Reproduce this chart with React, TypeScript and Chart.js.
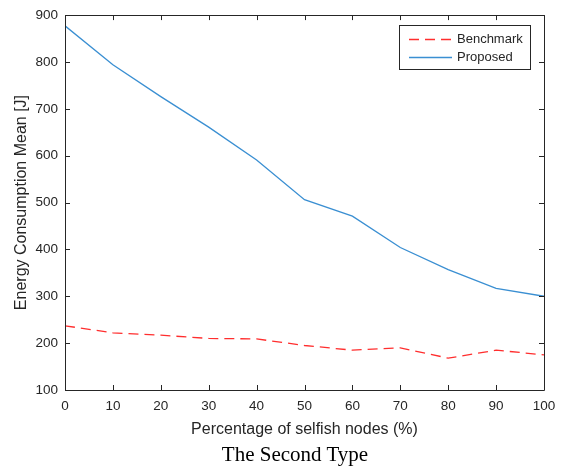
import React, { useEffect, useRef } from "react";
import { Chart, registerables } from "chart.js";

Chart.register(...registerables);

const xValues = [0, 10, 20, 30, 40, 50, 60, 70, 80, 90, 100];
const benchmark = [237, 222, 217, 210, 209, 195, 185, 190, 168, 185, 175];
const proposed = [877, 794, 726, 661, 591, 506, 471, 404, 357, 317, 300];
const yTicks = [100, 200, 300, 400, 500, 600, 700, 800, 900];
const xTicks = [0, 10, 20, 30, 40, 50, 60, 70, 80, 90, 100];
const seriesNames = ["Benchmark", "Proposed"];

const AXIS = "#262626";
const FONT = "'Liberation Sans', Arial, Helvetica, sans-serif";
const RED = "#ff2e2e";
const BLUE = "#3a8fd2";
const COLORS = [RED, BLUE];
const DASHES = [[10, 6], []];

const matlabAxes = {
  id: "matlabAxes",
  afterDatasetsDraw(chart: any) {
    const { ctx, chartArea } = chart;
    const { left, right, top, bottom } = chartArea;
    const xs = chart.scales.x;
    const ys = chart.scales.y;
    const tl = 5;
    ctx.save();
    ctx.strokeStyle = AXIS;
    ctx.lineWidth = 1;
    ctx.setLineDash([]);
    ctx.beginPath();
    ctx.rect(Math.round(left) + 0.5, Math.round(top) + 0.5, Math.round(right - left), Math.round(bottom - top));
    ctx.stroke();
    ctx.beginPath();
    for (const v of xTicks) {
      const px = Math.round(xs.getPixelForValue(v)) + 0.5;
      ctx.moveTo(px, bottom);
      ctx.lineTo(px, bottom - tl);
      ctx.moveTo(px, top);
      ctx.lineTo(px, top + tl);
    }
    for (const v of yTicks) {
      const py = Math.round(ys.getPixelForValue(v)) + 0.5;
      ctx.moveTo(left, py);
      ctx.lineTo(left + tl, py);
      ctx.moveTo(right, py);
      ctx.lineTo(right - tl, py);
    }
    ctx.stroke();

    // legend
    const bx = 399.5, by = 25.5, bw = 131, bh = 44;
    ctx.fillStyle = "#ffffff";
    ctx.fillRect(bx, by, bw, bh);
    ctx.strokeStyle = AXIS;
    ctx.lineWidth = 1;
    ctx.strokeRect(bx, by, bw, bh);
    const rows = [39.5, 57.5];
    seriesNames.forEach((name, i) => {
      const y = rows[i];
      ctx.beginPath();
      ctx.strokeStyle = COLORS[i];
      ctx.lineWidth = 1.3;
      ctx.setLineDash(DASHES[i]);
      ctx.moveTo(409, y);
      ctx.lineTo(452, y);
      ctx.stroke();
      ctx.setLineDash([]);
      ctx.fillStyle = AXIS;
      ctx.font = `13px ${FONT}`;
      ctx.textBaseline = "middle";
      ctx.textAlign = "left";
      ctx.fillText(name, 457, y);
    });
    ctx.restore();
  },
};

export default function App() {
  const ref = useRef<HTMLCanvasElement>(null);
  useEffect(() => {
    if (!ref.current) return;
    const chart = new Chart(ref.current, {
      type: "line",
      data: {
        datasets: [
          {
            label: seriesNames[0],
            data: xValues.map((x, i) => ({ x, y: benchmark[i] })),
            borderColor: RED,
            borderWidth: 1.3,
            borderDash: DASHES[0],
            pointRadius: 0,
            fill: false,
            tension: 0,
          },
          {
            label: seriesNames[1],
            data: xValues.map((x, i) => ({ x, y: proposed[i] })),
            borderColor: BLUE,
            borderWidth: 1.3,
            pointRadius: 0,
            fill: false,
            tension: 0,
          },
        ],
      },
      options: {
        animation: false,
        responsive: false,
        maintainAspectRatio: false,
        layout: { padding: { left: 0, right: 20, top: 12, bottom: 30 } },
        plugins: { legend: { display: false }, tooltip: { enabled: false }, title: { display: false } },
        scales: {
          x: {
            type: "linear",
            min: 0,
            max: 100,
            afterBuildTicks: (s: any) => { s.ticks = xTicks.map((v) => ({ value: v })); },
            afterFit: (s: any) => { s.height = 49; },
            grid: { display: false, drawTicks: false },
            border: { display: false },
            ticks: { color: AXIS, font: { family: FONT, size: 13.5 }, padding: 8, maxRotation: 0, autoSkip: false },
            title: {
              display: true,
              text: "Percentage of selfish nodes (%)",
              color: AXIS,
              font: { family: FONT, size: 16 },
              padding: { top: 0, bottom: 0 },
            },
          },
          y: {
            type: "linear",
            min: 100,
            max: 900,
            afterBuildTicks: (s: any) => { s.ticks = yTicks.map((v) => ({ value: v })); },
            afterFit: (s: any) => { s.width = 65; },
            grid: { display: false, drawTicks: false },
            border: { display: false },
            ticks: { color: AXIS, font: { family: FONT, size: 13.5 }, padding: 7, autoSkip: false },
            title: {
              display: true,
              text: "Energy Consumption Mean [J]",
              color: AXIS,
              font: { family: FONT, size: 16 },
              padding: { top: 12, bottom: 0 },
            },
          },
        },
      },
      plugins: [matlabAxes],
    } as any);
    return () => chart.destroy();
  }, []);

  return (
    <div style={{ position: "absolute", left: 0, top: 0, width: 564, height: 469, background: "#fff" }}>
      <canvas ref={ref} width={564} height={469} style={{ display: "block", width: 564, height: 469 }} />
      <div
        style={{
          position: "absolute",
          left: 195,
          top: 442,
          width: 200,
          textAlign: "center",
          fontFamily: "'Liberation Serif', 'Times New Roman', serif",
          fontSize: 21,
          lineHeight: "24px",
          color: "#000",
          whiteSpace: "nowrap",
        }}
      >
        The Second Type
      </div>
    </div>
  );
}
